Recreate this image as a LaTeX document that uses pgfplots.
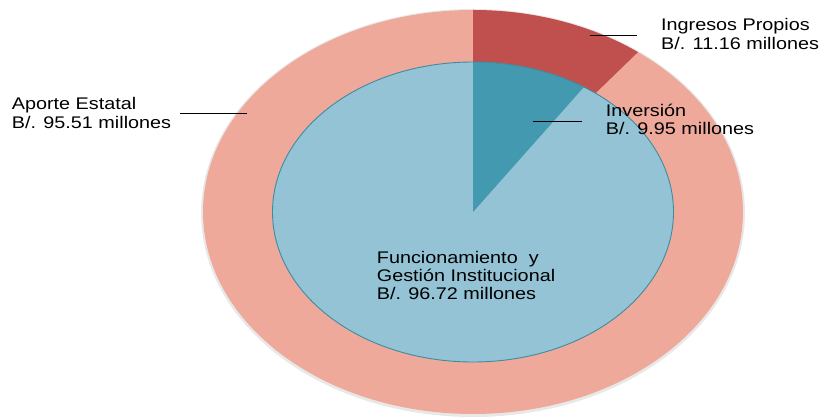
\documentclass[border=0pt]{standalone}
\usepackage{pgfplots}
\pgfplotsset{compat=1.18}
\usepackage{fontspec}
\setmainfont{Liberation Sans}
\usepackage{graphicx}
\definecolor{salmon}{HTML}{EEA99B}
\definecolor{redsec}{HTML}{C0504E}
\definecolor{lightblue}{HTML}{93C3D4}
\definecolor{invteal}{HTML}{4299B0}
\definecolor{innerborder}{HTML}{3E8CA3}
\newcommand{\lbl}[1]{\scalebox{1}[0.85]{\fontsize{19.8}{22}\selectfont #1}}
\begin{document}
\begin{tikzpicture}
\def\aporte{95.51}
\def\ingresos{11.16}
\def\funcion{96.72}
\def\inversion{9.95}
\pgfmathsetmacro\angA{90-360*\ingresos/(\aporte+\ingresos)}
\pgfmathsetmacro\angB{90-360*\inversion/(\funcion+\inversion)}
\begin{axis}[hide axis, scale only axis, width=822pt, height=416pt,
  xmin=0, xmax=822, ymin=0, ymax=416, clip=false]
\path (axis cs:0,0) rectangle (axis cs:822,416);
% soft shadow
\fill[gray, opacity=0.18] (axis cs:473,203) ellipse [x radius=272, y radius=204];
% outer ring
\fill[salmon] (axis cs:473,204) ellipse [x radius=270, y radius=202];
\fill[redsec] (axis cs:473,204) -- (axis cs:473,406)
  arc[start angle=90, end angle=\angA, x radius=270, y radius=202] -- cycle;
% inner pie
\fill[lightblue] (axis cs:473,204) ellipse [x radius=200.5, y radius=150];
\fill[invteal] (axis cs:473,204) -- (axis cs:473,354)
  arc[start angle=90, end angle=\angB, x radius=200.5, y radius=150] -- cycle;
\draw[innerborder, line width=0.9pt] (axis cs:473,204) ellipse [x radius=200.5, y radius=150];
% leader lines
\draw[black, line width=0.8pt] (axis cs:590,381) -- (axis cs:637,381);
\draw[black, line width=0.8pt] (axis cs:533,295) -- (axis cs:582,295);
\draw[black, line width=0.8pt] (axis cs:180,302.7) -- (axis cs:247,302.7);
% labels
\node[anchor=base west, inner sep=0] at (axis cs:661,385) {\lbl{Ingresos Propios}};
\node[anchor=base west, inner sep=0] at (axis cs:661,366.7) {\lbl{B/. 11.16 millones}};
\node[anchor=base west, inner sep=0] at (axis cs:11.7,306.7) {\lbl{Aporte Estatal}};
\node[anchor=base west, inner sep=0] at (axis cs:11.7,287.7) {\lbl{B/. 95.51 millones}};
\node[anchor=base west, inner sep=0] at (axis cs:605.7,299.3) {\lbl{Inversión}};
\node[anchor=base west, inner sep=0] at (axis cs:605.7,281) {\lbl{B/. 9.95 millones}};
\node[anchor=base west, inner sep=0] at (axis cs:376.7,152.7) {\lbl{Funcionamiento\ \ y}};
\node[anchor=base west, inner sep=0] at (axis cs:376.7,134.3) {\lbl{Gestión Institucional}};
\node[anchor=base west, inner sep=0] at (axis cs:376.7,116) {\lbl{B/. 96.72 millones}};
\end{axis}
\end{tikzpicture}
\end{document}
